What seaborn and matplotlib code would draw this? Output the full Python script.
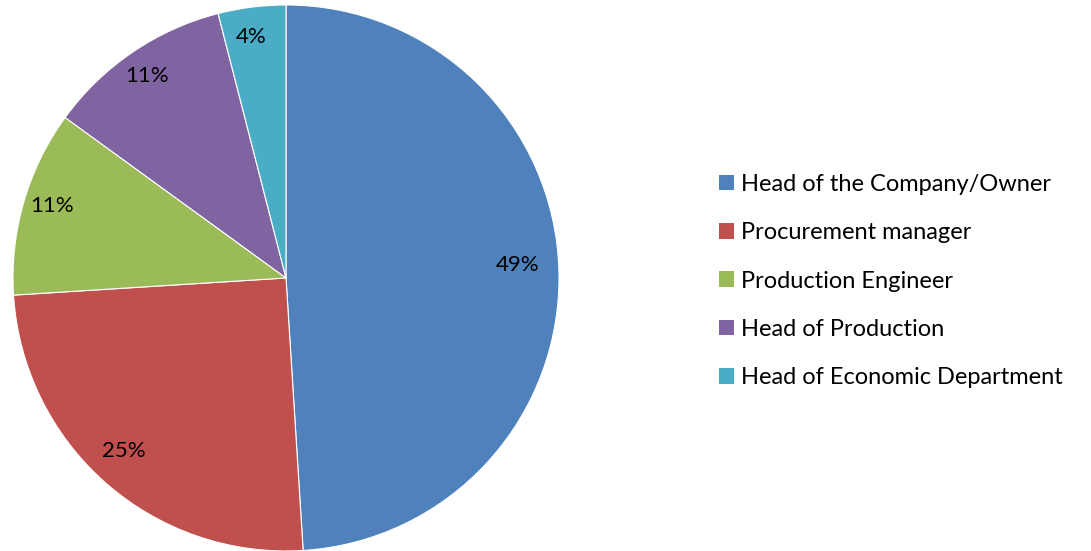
import numpy as np
import seaborn as sns
import matplotlib.pyplot as plt
from matplotlib.patches import Patch

roles = ["Head of the Company/Owner", "Procurement manager", "Production Engineer",
         "Head of Production", "Head of Economic Department"]
shares = [49, 25, 11, 11, 4]
pct_labels = ["49%", "25%", "11%", "11%", "4%"]
colors = ["#4F81BD", "#C0504D", "#9BBB59", "#8064A2", "#4BACC6"]

sns.set_theme(style="white")
plt.rcParams['font.family'] = ['Lato', 'DejaVu Sans']
plt.rcParams['text.color'] = 'black'
palette = sns.color_palette(colors)

fig = plt.figure(figsize=(10.91, 5.51), dpi=100)
ax = fig.add_axes([0.0119, 0.0, 0.5005, 0.991])
wedges, _ = ax.pie(shares, colors=palette, startangle=90, counterclock=False,
                   wedgeprops={'linewidth': 0.8, 'edgecolor': 'white'})
ax.set_xlim(-1, 1)
ax.set_ylim(-1, 1)
ax.set_aspect('equal')

# percentage labels along each wedge's mid-angle
for w, lab in zip(wedges, pct_labels):
    mid = np.deg2rad((w.theta1 + w.theta2) / 2)
    r = 0.87
    ax.text(r * np.cos(mid) - 0.02, r * np.sin(mid) + 0.02, lab,
            ha='center', va='center', fontsize=16, color='black')

handles = [Patch(facecolor=c, edgecolor='none') for c in palette]
fig.legend(handles, roles, loc='center left', bbox_to_anchor=(0.6395, 0.49),
           frameon=False, fontsize=17, handlelength=0.65, handleheight=0.65,
           handletextpad=0.3, labelspacing=1.16, labelcolor='black')

fig.savefig("out.png", dpi=100)
